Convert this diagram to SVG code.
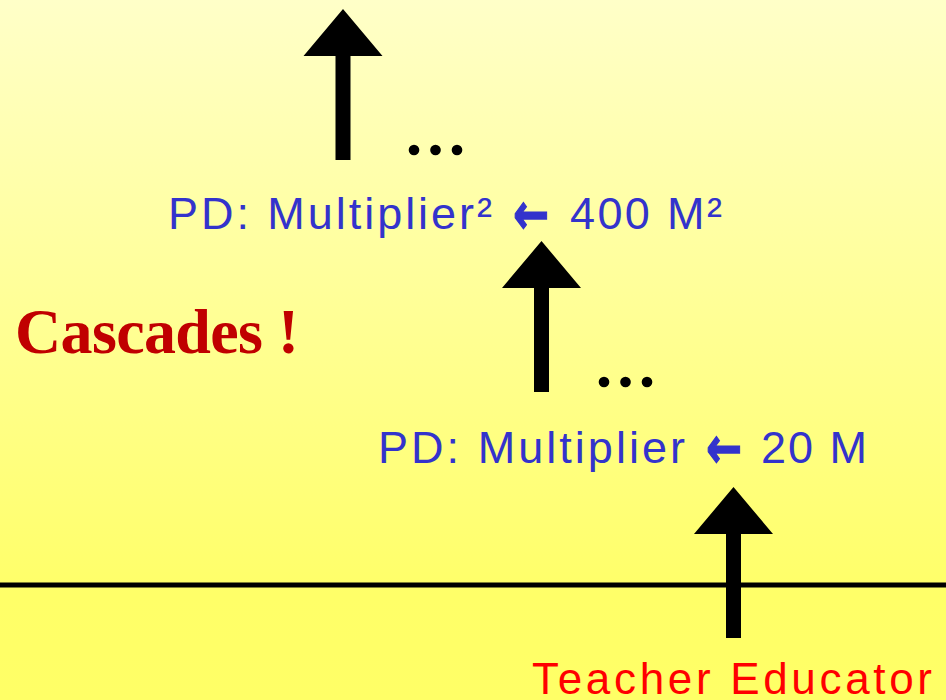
<svg xmlns="http://www.w3.org/2000/svg" width="946" height="700" viewBox="0 0 946 700">
  <defs>
    <linearGradient id="bg" x1="0" y1="0" x2="0" y2="1">
      <stop offset="0" stop-color="#FFFFC8"/>
      <stop offset="0.85" stop-color="#FFFF68"/>
      <stop offset="1" stop-color="#FFFF66"/>
    </linearGradient>
    <path id="blockArrow" d="M0,0 L39.5,47 L7.5,47 L7.5,151 L-7.5,151 L-7.5,47 L-39.5,47 Z" fill="#000"/>
    <g id="dots" fill="#000">
      <circle cx="0" cy="0" r="5.3"/>
      <circle cx="21.5" cy="0" r="5.3"/>
      <circle cx="43" cy="0" r="5.3"/>
    </g>
  </defs>
  <style>
    .pd { font-family: "Liberation Sans", Arial, sans-serif; font-size: 45px; fill: #3333CC; }
    .arr { font-family: "DejaVu Sans", sans-serif; font-weight: bold; font-size: 43px; fill: #3333CC; stroke: #3333CC; stroke-width: 1; }
    .te { font-family: "Liberation Sans", Arial, sans-serif; font-size: 44px; fill: #FF0000; }
    .casc { font-family: "Liberation Serif", "Times New Roman", serif; font-weight: bold; font-size: 64px; fill: #C00000; }
  </style>
  <rect x="0" y="0" width="946" height="700" fill="url(#bg)"/>

  <g id="connectors">
    <line x1="0" y1="585" x2="946" y2="585" stroke="#000" stroke-width="5"/>
    <use href="#blockArrow" x="343" y="9"/>
    <use href="#blockArrow" x="541.5" y="241"/>
    <use href="#blockArrow" x="733.5" y="487"/>
    <use href="#dots" x="414" y="150"/>
    <use href="#dots" x="604" y="382"/>
  </g>

  <g id="node-pd2">
    <text class="pd" x="168" y="229" textLength="324" lengthAdjust="spacing">PD: Multiplier²</text>
    <text class="arr" x="513" y="228" transform="translate(0 212) scale(1 1.35) translate(0 -212)">←</text>
    <text class="pd" x="570" y="229" textLength="152" lengthAdjust="spacing">400 M²</text>
  </g>

  <g id="node-cascades">
    <text class="casc" x="15" y="353" textLength="284" lengthAdjust="spacing">Cascades !</text>
  </g>

  <g id="node-pd1">
    <text class="pd" x="378" y="463" textLength="307" lengthAdjust="spacing">PD: Multiplier</text>
    <text class="arr" x="706" y="462" transform="translate(0 446) scale(1 1.35) translate(0 -446)">←</text>
    <text class="pd" x="761" y="463" textLength="106" lengthAdjust="spacing">20 M</text>
  </g>

  <g id="node-teacher">
    <text class="te" x="532" y="694" textLength="400" lengthAdjust="spacing">Teacher Educator</text>
  </g>
</svg>
